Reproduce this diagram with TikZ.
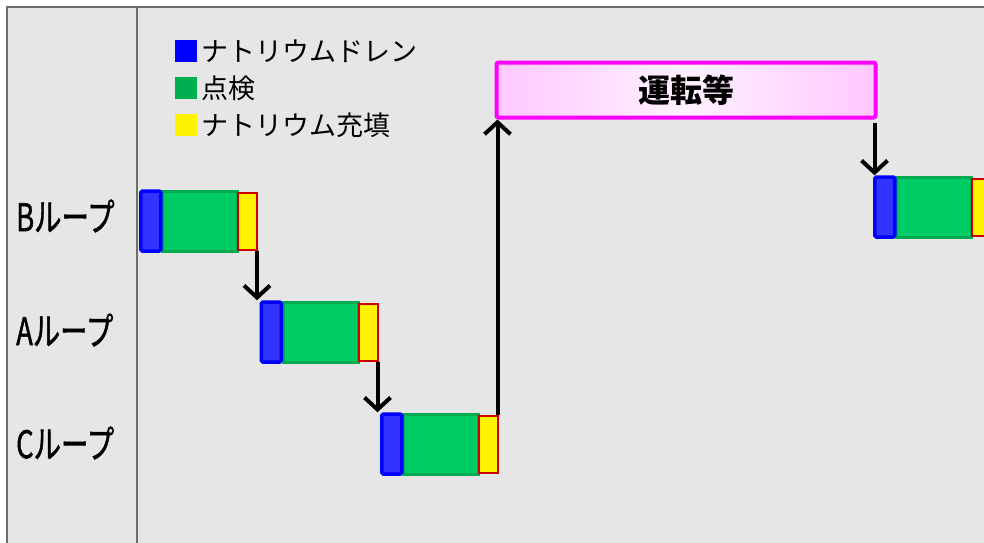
\documentclass[tikz,border=0pt]{standalone}
\usepackage{fontspec}
\setmainfont{Noto Sans CJK JP}
\newfontfamily\loopfont[FakeBold=1.5]{Noto Sans CJK JP}
\usepackage{tikz}
\usetikzlibrary{positioning,arrows.meta}

\definecolor{panelgray}{RGB}{230,230,230}
\definecolor{framegray}{RGB}{110,110,110}
\definecolor{drainblue}{RGB}{51,51,255}
\definecolor{inspgreen}{RGB}{0,204,102}
\definecolor{inspedge}{RGB}{0,170,80}
\definecolor{keygreen}{RGB}{0,176,80}
\definecolor{fillred}{RGB}{204,0,0}
\definecolor{runedge}{RGB}{255,0,255}
\definecolor{runpink}{RGB}{255,200,255}

\tikzset{
  drainbox/.style={draw=blue, fill=drainblue, line width=3.5pt, rounded corners=1.5pt, minimum width=20pt, minimum height=60pt, inner sep=0pt},
  inspbox/.style={draw=inspedge, fill=inspgreen, line width=3pt, minimum width=75pt, minimum height=60pt, inner sep=0pt},
  fillbox/.style={draw=fillred, fill=yellow, line width=2pt, minimum width=19pt, minimum height=57pt, inner sep=0pt},
  runbox/.style={draw=runedge, line width=4pt, rounded corners=2pt, minimum width=379pt, minimum height=55pt, inner sep=0pt,
    left color=runpink, right color=runpink, middle color=runpink!25!white, font=\fontsize{32}{32}\selectfont\bfseries},
  flow/.style={-{Straight Barb[length=12pt,width=26pt]}, line width=4pt},
  looplabel/.style={anchor=west, inner sep=0pt, font=\fontsize{38}{38}\loopfont},
  legendkey/.style={minimum size=22pt, inner sep=0pt},
  legendtext/.style={inner sep=0pt, font=\fontsize{27}{27}\selectfont}
}

\begin{document}
\begin{tikzpicture}[x=1pt, y=-1pt]
    \useasboundingbox (0,0) rectangle (984,542);
    \fill[white] (0,0) rectangle (984,542);
    \draw[framegray, line width=2pt, fill=panelgray] (7,7) rectangle (1000,560);
    \draw[framegray, line width=2pt] (137,7) -- (137,560);

    % legend
    \node[legendkey, fill=blue] (key_drain) at (186,51) {};
    \node[legendtext, right=4pt of key_drain] (txt_drain) {ナトリウムドレン};
    \node[legendkey, fill=keygreen] (key_insp) at (186,88) {};
    \node[legendtext, right=4pt of key_insp] (txt_insp) {点検};
    \node[legendkey, fill=yellow] (key_fill) at (186,125) {};
    \node[legendtext, right=4pt of key_fill] (txt_fill) {ナトリウム充填};

    \node[looplabel] (loop_b) at (16,216) {\scalebox{0.72}[1]{Bループ}};
    \node[looplabel] (loop_a) at (16,330) {\scalebox{0.72}[1]{Aループ}};
    \node[looplabel] (loop_c) at (16,443) {\scalebox{0.72}[1]{Cループ}};

    \node[runbox] (run) at (686,90) {運転等};

    \node[inspbox] (insp_b) at (200,221) {};
    \node[drainbox, left=-1.5pt of insp_b] (drain_b) {};
    \node[fillbox, right=-2pt of insp_b] (fill_b) {};

    \node[inspbox] (insp_a) at (320.5,332) {};
    \node[drainbox, left=-1.5pt of insp_a] (drain_a) {};
    \node[fillbox, right=-2pt of insp_a] (fill_a) {};

    \node[inspbox] (insp_c) at (441,444) {};
    \node[drainbox, left=-1.5pt of insp_c] (drain_c) {};
    \node[fillbox, right=-2pt of insp_c] (fill_c) {};

    \node[inspbox] (insp_b2) at (934,207) {};
    \node[drainbox, left=-1.5pt of insp_b2] (drain_b2) {};
    \node[fillbox, right=-2pt of insp_b2] (fill_b2) {};

    \draw[flow] ([xshift=-1pt]fill_b.south east) -- ([xshift=-1pt]fill_b.south east |- drain_a.north);
    \draw[flow] ([xshift=-1pt]fill_a.south east) -- ([xshift=-1pt]fill_a.south east |- drain_c.north);
    \draw[flow] ([xshift=-1.5pt]fill_c.north east) -- ([xshift=-1.5pt]fill_c.north east |- run.south);
    \draw[flow] ([xshift=-3pt,yshift=-3pt]run.south east) -- ([xshift=-3pt]run.south east |- drain_b2.north);
\end{tikzpicture}
\end{document}
